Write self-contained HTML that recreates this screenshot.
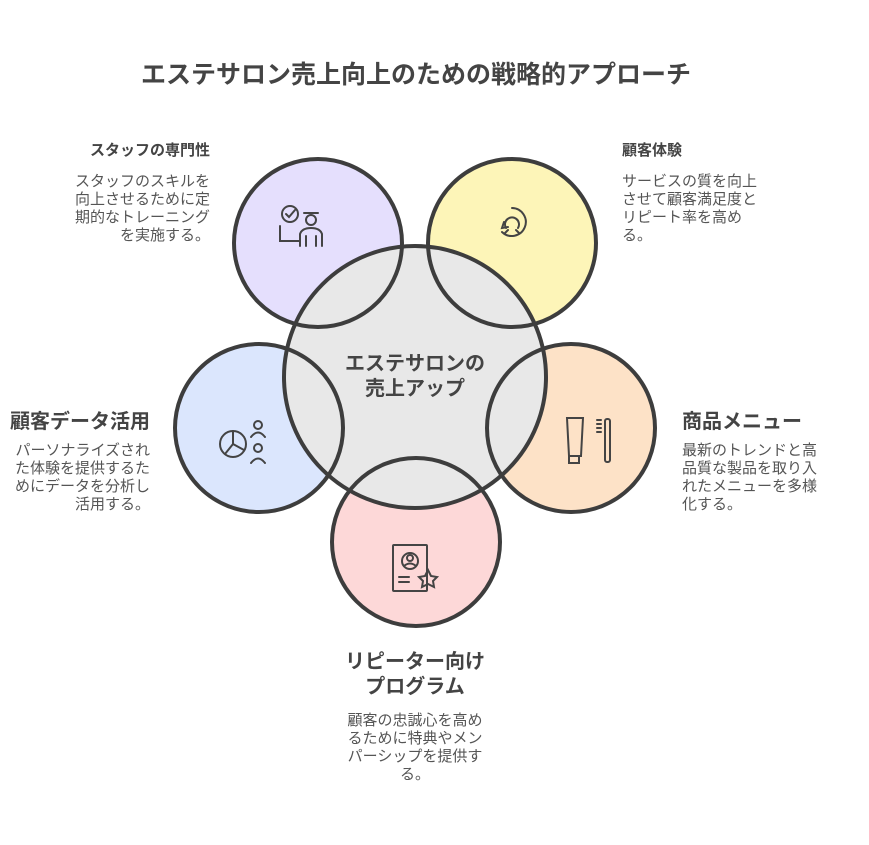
<!DOCTYPE html>
<html><head><meta charset="utf-8"><style>
body{margin:0;width:869px;height:845px;background:#fff;position:relative;font-family:"Liberation Sans","Noto Sans CJK JP",sans-serif;color:#444;overflow:hidden}
.t{position:absolute;white-space:nowrap}
.b{font-weight:bold}
.s{font-size:15px;line-height:18px;color:#555}
</style></head><body>
<svg width="869" height="845" style="position:absolute;left:0;top:0">
<g stroke="none">
<circle cx="318" cy="243" r="84" fill="#e5dffd"/>
<circle cx="512" cy="243" r="84" fill="#fdf5b8"/>
<circle cx="259" cy="428" r="84" fill="#dbe6fd"/>
<circle cx="571" cy="428" r="84" fill="#fde2c7"/>
<circle cx="416" cy="542" r="84" fill="#fdd8d8"/>
<circle cx="415" cy="377" r="131" fill="#e8e8e8"/>
</g>
<g fill="none" stroke="#3d3d3d" stroke-width="4">
<circle cx="318" cy="243" r="84"/>
<circle cx="512" cy="243" r="84"/>
<circle cx="259" cy="428" r="84"/>
<circle cx="571" cy="428" r="84"/>
<circle cx="416" cy="542" r="84"/>
<circle cx="415" cy="377" r="131"/>
</g>
<g fill="none" stroke="#444" stroke-width="2" stroke-linecap="round">
<circle cx="290" cy="214" r="8"/><path d="M286 214l3 3 6-7"/>
<path d="M280 226v15h20"/><circle cx="311" cy="220" r="5"/><path d="M304 213h14"/>
<path d="M300 246v-12q2-6 11-6t11 6v12M306 246v-10M316 246v-10"/>
<path d="M512 208a14 14 0 1 1 -10 24"/><path d="M504 222l-2 6 6-1"/>
<path d="M506 228a7 7 0 1 1 12 0M508 230l-3 3M516 230l3 3"/>
<circle cx="233" cy="444" r="13"/><path d="M233 444v-13M233 444l11 6M233 444l-8 10"/>
<circle cx="258" cy="425" r="4"/><path d="M251 437q7-9 14 0"/>
<circle cx="258" cy="448" r="4"/><path d="M251 463q7-9 14 0"/>
<path d="M567 418h16l-2 38h-12zM569 456v7h10v-7"/>
<rect x="605" y="419" width="5" height="43" rx="2"/><path d="M597 420h4M597 424h4M597 428h4M597 432h4"/>
<rect x="393" y="545" width="34" height="46" rx="1"/>
<circle cx="410" cy="561" r="8"/><circle cx="410" cy="558" r="3"/><path d="M404 566q6-5 12 0"/>
<path d="M399 577h10M399 582h10"/>
<path d="M428 570l3 6 6 1-4 4 1 6-6-3-6 3 1-6-4-4 6-1z"/>
</g>
</svg>
<div class="t b" style="left:0;width:832px;text-align:center;top:55px;font-size:25px;color:#444">エステサロン売上向上のための戦略的アプローチ</div>
<div class="t b" style="left:0;width:830px;text-align:center;top:352px;font-size:20px;line-height:25px">エステサロンの<br>売上アップ</div>

<div class="t b" style="right:659px;top:139px;font-size:15px;text-align:right">スタッフの専門性</div>
<div class="t s" style="right:659px;top:173px;text-align:right">スタッフのスキルを<br>向上させるために定<br>期的なトレーニング<br>を実施する。</div>

<div class="t b" style="left:622px;top:139px;font-size:15px">顧客体験</div>
<div class="t s" style="left:622px;top:173px">サービスの質を向上<br>させて顧客満足度と<br>リピート率を高め<br>る。</div>

<div class="t b" style="left:10px;top:405px;font-size:20px">顧客データ活用</div>
<div class="t s" style="right:719px;top:442px;text-align:right">パーソナライズされ<br>た体験を提供するた<br>めにデータを分析し<br>活用する。</div>

<div class="t b" style="left:682px;top:405px;font-size:20px">商品メニュー</div>
<div class="t s" style="left:682px;top:442px">最新のトレンドと高<br>品質な製品を取り入<br>れたメニューを多様<br>化する。</div>

<div class="t b" style="left:0;width:830px;text-align:center;top:650px;font-size:20px;line-height:25px">リピーター向け<br>プログラム</div>
<div class="t s" style="left:0;width:830px;text-align:center;top:712px">顧客の忠誠心を高め<br>るために特典やメン<br>パーシップを提供す<br>る。</div>
</body></html>
